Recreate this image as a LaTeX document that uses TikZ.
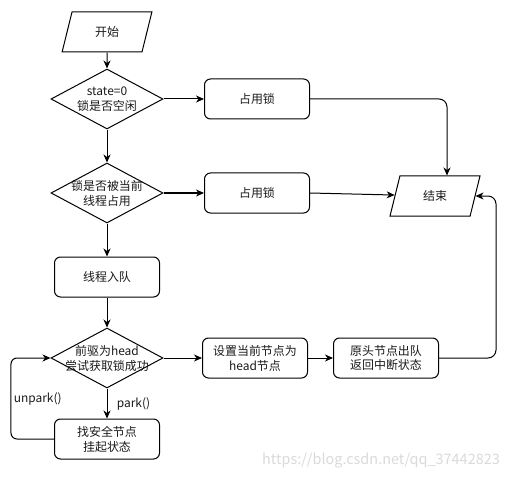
\documentclass[tikz,border=0pt]{standalone}
\usepackage{fontspec}
\setmainfont{Noto Sans CJK SC}
\usetikzlibrary{shapes.geometric}
\usetikzlibrary{arrows.meta}
\definecolor{lineColor}{HTML}{000000}
\definecolor{textColor}{HTML}{1A1A1A}
\definecolor{markColor}{HTML}{DADADA}
\tikzset{
  stepBox/.style={draw=lineColor, line width=1bp, rounded corners=6bp,
    minimum width=105bp, minimum height=40bp, inner sep=0pt, align=center},
  ioBox/.style={draw=lineColor, line width=1bp, trapezium, trapezium stretches=true,
    trapezium left angle=73, trapezium right angle=107,
    minimum width=90bp, minimum height=40bp, inner sep=0pt},
  testBox/.style={draw=lineColor, line width=1bp, diamond,
    minimum width=112bp, minimum height=60bp, inner sep=0pt},
  flowLink/.style={draw=lineColor, line width=1bp,
    -{Stealth[length=8bp, width=7bp, inset=2.5bp]}},
}

\begin{document}
\begin{tikzpicture}[x=1bp,y=-1bp, font=\fontsize{12}{15}\selectfont, text=textColor]

\useasboundingbox[fill=white] (0, 0) rectangle (513, 481);

% shape layer
\begin{scope}
\node[ioBox] (startNode) at (107, 32) {开始};
\node[testBox, label={[align=center]center:state=0\\锁是否空闲}] (freeTest) at (107, 99) {};
\node[stepBox] (grabBox1) at (257, 99) {占用锁};
\node[testBox, label={[align=center]center:锁是否被当前\\线程占用}] (ownerTest) at (107, 193) {};
\node[stepBox] (grabBox2) at (257, 193) {占用锁};
\node[ioBox] (endNode) at (435, 196) {结束};
\node[stepBox] (enqueueBox) at (107, 277) {线程入队};
\node[testBox, label={[align=center]center:前驱为head\\尝试获取锁成功}] (headTest) at (107, 358) {};
\node[stepBox] (setHeadBox) at (255, 358) {设置当前节点为\\head节点};
\node[stepBox] (dequeueBox) at (386, 358) {原头节点出队\\返回中断状态};
\node[stepBox] (parkBox) at (107, 439) {找安全节点\\挂起状态};
\coordinate (endTurn) at (496, 196);
\end{scope}

% link layer
\begin{scope}
\draw[flowLink] (startNode) -- (freeTest);
\draw[flowLink] (freeTest) -- (grabBox1);
\draw[flowLink] (freeTest) -- (ownerTest);
\draw[flowLink] (ownerTest) -- (grabBox2);
\draw[flowLink] (ownerTest) -- (enqueueBox);
\draw[flowLink] (enqueueBox) -- (headTest);
\draw[flowLink] (headTest) -- (setHeadBox);
\draw[flowLink] (setHeadBox) -- (dequeueBox);
\draw[flowLink] (headTest) -- node[right=6bp] {park()} (parkBox);
\draw[flowLink, rounded corners=6bp] (parkBox.west) -- ++(-43, 0)
  |- node[pos=0.25, right=-1bp] {unpark()} (headTest.west);
\draw[flowLink, rounded corners=8bp] (grabBox1.east) -| ([xshift=12bp]endNode.north);
\draw[flowLink] (grabBox2.east) -- (endNode);
\draw[flowLink, rounded corners=8bp] (dequeueBox.east) -| (endTurn) -- (endNode.east);
\end{scope}

% watermark
\node[text=markColor, font=\fontsize{14.5}{17}\selectfont] (siteMark) at (381, 461)
  {https://blog.csdn.net/qq\_37442823};

\end{tikzpicture}
\end{document}
